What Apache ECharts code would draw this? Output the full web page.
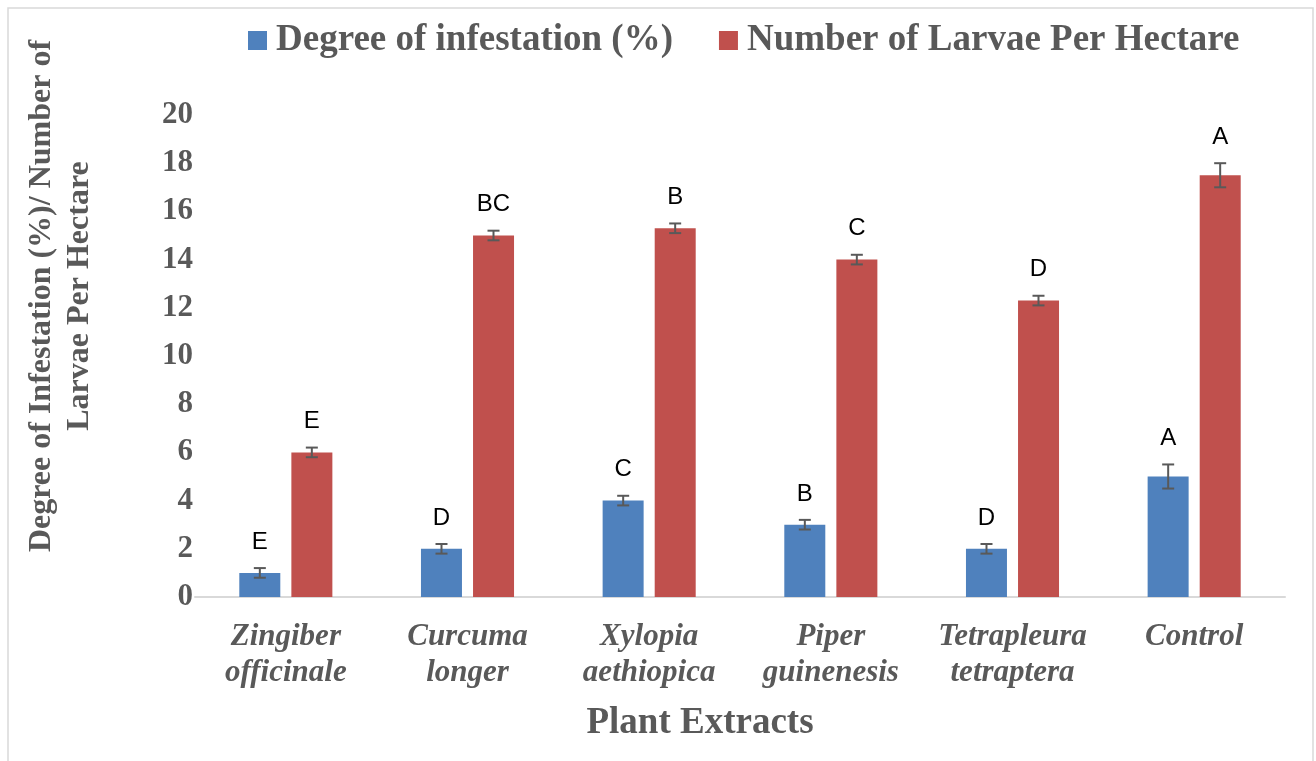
<!DOCTYPE html>
<html lang="en">
<head>
    <meta charset="UTF-8">
    <title>Plant Extracts</title>
    <script src="https://cdn.jsdelivr.net/npm/echarts@6/dist/echarts.min.js"></script>
    <style>
        html, body { margin: 0; padding: 0; background: #fff; }
    </style>
</head>
<body>
<div id="main" style="width: 1316px;height: 761px"></div>
<script type="text/javascript">
    // data
    var categories = ['Zingiber\nofficinale', 'Curcuma\nlonger', 'Xylopia\naethiopica', 'Piper\nguinenesis', 'Tetrapleura\ntetraptera', 'Control'];
    var degree = [1, 2, 4, 3, 2, 5];
    var degreeErr = [0.2, 0.2, 0.2, 0.2, 0.2, 0.5];
    var degreeLetters = ['E', 'D', 'C', 'B', 'D', 'A'];
    var larvae = [6, 15, 15.3, 14, 12.3, 17.5];
    var larvaeErr = [0.2, 0.2, 0.2, 0.2, 0.2, 0.5];
    var larvaeLetters = ['E', 'BC', 'B', 'C', 'D', 'A'];
    var yTicks = [0, 20, 2];

    var serif = '"Liberation Serif", "Times New Roman", serif';
    var grey = '#595959';

    // error bar + letter, shifted left/right from the category centre
    function errorSeries(values, errs, letters, shift) {
        var data = values.map(function (v, i) { return [i, v, errs[i], letters[i]]; });
        return {
            type: 'custom',
            silent: true,
            z: 10,
            data: data,
            encode: {x: 0, y: 1},
            renderItem: function (params, api) {
                var i = api.value(0), v = api.value(1), e = api.value(2);
                var hi = api.coord([i, v + e]);
                var lo = api.coord([i, v - e]);
                var x = hi[0] + shift;
                var st = {stroke: grey, lineWidth: 2};
                return {
                    type: 'group',
                    children: [
                        {type: 'line', shape: {x1: x, y1: hi[1], x2: x, y2: lo[1]}, style: st},
                        {type: 'line', shape: {x1: x - 6, y1: hi[1], x2: x + 6, y2: hi[1]}, style: st},
                        {type: 'line', shape: {x1: x - 6, y1: lo[1], x2: x + 6, y2: lo[1]}, style: st},
                        {
                            type: 'text',
                            style: {
                                x: x, y: hi[1] - 14,
                                text: data[params.dataIndex][3],
                                align: 'center', verticalAlign: 'bottom',
                                font: '24px "Liberation Sans", Arial, sans-serif',
                                fill: '#000'
                            }
                        }
                    ]
                };
            }
        };
    }

    var myChart = echarts.init(document.getElementById('main'));
    var option = {
        animation: false,
        backgroundColor: '#fff',
        graphic: [
            {
                type: 'rect',
                shape: {x: 8, y: 8, width: 1305, height: 760},
                style: {fill: 'none', stroke: '#d9d9d9', lineWidth: 1.5}
            },
            {
                type: 'text',
                x: 61, y: 296,
                rotation: Math.PI / 2,
                style: {
                    text: 'Degree of Infestation (%)/ Number of\nLarvae Per Hectare',
                    align: 'center', verticalAlign: 'middle',
                    font: 'bold 32px ' + serif,
                    lineHeight: 38,
                    fill: grey
                }
            }
        ],
        legend: {
            top: 17,
            left: 243,
            icon: 'rect',
            itemWidth: 19,
            itemHeight: 19,
            itemGap: 46,
            textStyle: {fontFamily: serif, fontWeight: 'bold', fontSize: 37, color: grey, padding: [0, 0, 0, 4]},
            data: ['Degree of infestation (%)', 'Number of Larvae Per Hectare']
        },
        grid: {left: 195, right: 31, top: 115, bottom: 164},
        xAxis: {
            type: 'category',
            data: categories,
            name: 'Plant Extracts',
            nameLocation: 'middle',
            nameGap: 108,
            nameTextStyle: {fontFamily: serif, fontWeight: 'bold', fontSize: 37, color: grey, padding: [0, 80, 0, 0]},
            axisLine: {lineStyle: {color: '#d9d9d9', width: 2}},
            axisTick: {show: false},
            axisLabel: {
                interval: 0,
                margin: 22,
                fontFamily: serif, fontWeight: 'bold', fontStyle: 'italic',
                fontSize: 31, lineHeight: 36, color: grey
            }
        },
        yAxis: {
            type: 'value',
            min: yTicks[0],
            max: yTicks[1],
            interval: yTicks[2],
            splitLine: {show: false},
            axisLine: {show: false},
            axisTick: {show: false},
            axisLabel: {
                margin: 2,
                fontFamily: serif, fontWeight: 'bold', fontSize: 31, color: grey
            }
        },
        series: [
            {
                name: 'Degree of infestation (%)',
                type: 'bar',
                data: degree,
                barWidth: 41,
                barGap: '27%',
                itemStyle: {color: '#4f81bd'}
            },
            {
                name: 'Number of Larvae Per Hectare',
                type: 'bar',
                data: larvae,
                barWidth: 41,
                itemStyle: {color: '#c0504d'}
            },
            errorSeries(degree, degreeErr, degreeLetters, -26),
            errorSeries(larvae, larvaeErr, larvaeLetters, 26)
        ]
    };
    myChart.setOption(option);
</script>
</body>
</html>
